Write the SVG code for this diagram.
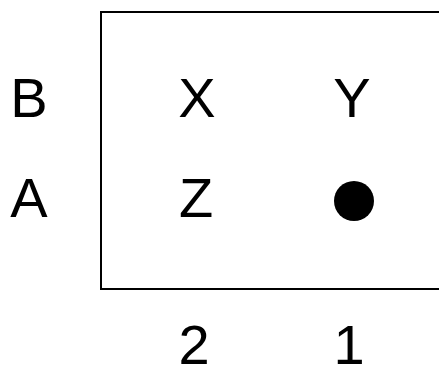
<svg xmlns="http://www.w3.org/2000/svg" width="439" height="367" viewBox="0 0 439 367">
<style>
text{font-family:"Liberation Sans",Arial,sans-serif;font-size:56px;fill:#000;text-anchor:middle}
</style>
<rect width="439" height="367" fill="#fff"/>
<g id="frame"><rect x="101" y="12" width="360" height="277" fill="none" stroke="#000" stroke-width="2"/></g>
<g id="rowB"><text x="29" y="117">B</text></g>
<g id="rowA"><text x="29" y="217">A</text></g>
<g id="X"><text x="197" y="117">X</text></g>
<g id="Y"><text x="352" y="117">Y</text></g>
<g id="Z"><text x="196" y="217">Z</text></g>
<g id="dot"><circle cx="354" cy="201" r="20" fill="#000"/></g>
<g id="col2"><text x="194" y="364">2</text></g>
<g id="col1"><text x="349" y="364">1</text></g>
<g id="connectors"></g>
</svg>
